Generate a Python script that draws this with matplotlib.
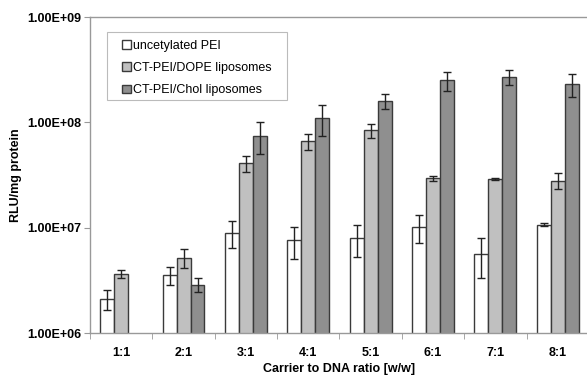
import numpy as np
import matplotlib.pyplot as plt
from matplotlib.patches import Rectangle

plt.rcParams['font.family'] = ['Liberation Sans', 'DejaVu Sans']

ratios = ["1:1", "2:1", "3:1", "4:1", "5:1", "6:1", "7:1", "8:1"]

pei = [2.1e6, 3.55e6, 9.0e6, 7.6e6, 8.0e6, 1.01e7, 5.6e6, 1.07e7]
pei_err = [0.45e6, 0.7e6, 2.6e6, 2.6e6, 2.7e6, 3.0e6, 2.3e6, 0.4e6]

dope = [3.65e6, 5.2e6, 4.1e7, 6.6e7, 8.4e7, 2.95e7, 2.9e7, 2.8e7]
dope_err = [0.35e6, 1.05e6, 0.7e7, 1.1e7, 1.35e7, 1.5e6, 0.4e6, 4.7e6]

chol = [np.nan, 2.88e6, 7.5e7, 1.11e8, 1.6e8, 2.5e8, 2.7e8, 2.3e8]
chol_err = [np.nan, 0.42e6, 2.5e7, 3.6e7, 2.7e7, 5.0e7, 4.4e7, 5.5e7]

fig = plt.figure(figsize=(5.87, 3.78), dpi=100)
ax = fig.add_axes([0.1533, 0.119, 0.85, 0.836])

x = np.arange(len(ratios))
w = 0.224
edge = "#3a3a3a"
ekw = dict(ecolor="#222222", elinewidth=1.0, capsize=3, capthick=1.0)

ax.bar(x - w, pei, w, yerr=pei_err, color="white", edgecolor=edge,
       linewidth=1.0, error_kw=ekw, label="uncetylated PEI")
ax.bar(x, dope, w, yerr=dope_err, color="#c0c0c0", edgecolor=edge,
       linewidth=1.0, error_kw=ekw, label="CT-PEI/DOPE liposomes")
ax.bar(x + w, chol, w, yerr=chol_err, color="#8f8f8f", edgecolor=edge,
       linewidth=1.0, error_kw=ekw, label="CT-PEI/Chol liposomes")

ax.set_yscale("log")
ax.set_ylim(1e6, 1e9)
ax.set_xlim(-0.5, len(ratios) - 0.5)
ax.set_yticks([1e6, 1e7, 1e8, 1e9])
ax.set_yticklabels(["1.00E+06", "1.00E+07", "1.00E+08", "1.00E+09"],
                   fontsize=9, fontweight="bold")
ax.yaxis.set_minor_locator(plt.NullLocator())

ax.set_xticks(x)
ax.set_xticklabels(ratios, fontsize=9, fontweight="bold")
ax.set_xticks(np.arange(len(ratios) + 1) - 0.5, minor=True)
ax.tick_params(axis="x", which="major", length=0, pad=10)
ax.tick_params(axis="x", which="minor", length=4, color="#999999", direction="out")
ax.tick_params(axis="y", length=4, color="#999999", pad=2)

for s in ["left", "bottom", "top"]:
    ax.spines[s].set_color("#999999")
    ax.spines[s].set_linewidth(1.0)
ax.spines["right"].set_visible(False)

ax.set_ylabel("RLU/mg protein", fontsize=9, fontweight="bold", labelpad=4)
ax.set_xlabel("Carrier to DNA ratio [w/w]", fontsize=9, fontweight="bold", labelpad=3)

# legend box drawn separately (wider side padding than matplotlib's frame)
ax.add_patch(Rectangle((0.034, 0.737), 0.361, 0.2155, transform=ax.transAxes,
                       facecolor="white", edgecolor="#bbbbbb", linewidth=0.8,
                       zorder=4))
leg = ax.legend(loc="upper left", bbox_to_anchor=(0.064, 0.928), fontsize=9,
                frameon=False, handlelength=0.7, handleheight=0.7,
                handletextpad=0.2, labelspacing=0.82, borderpad=0,
                borderaxespad=0)
leg.set_zorder(5)

fig.savefig("out.png", dpi=100)
